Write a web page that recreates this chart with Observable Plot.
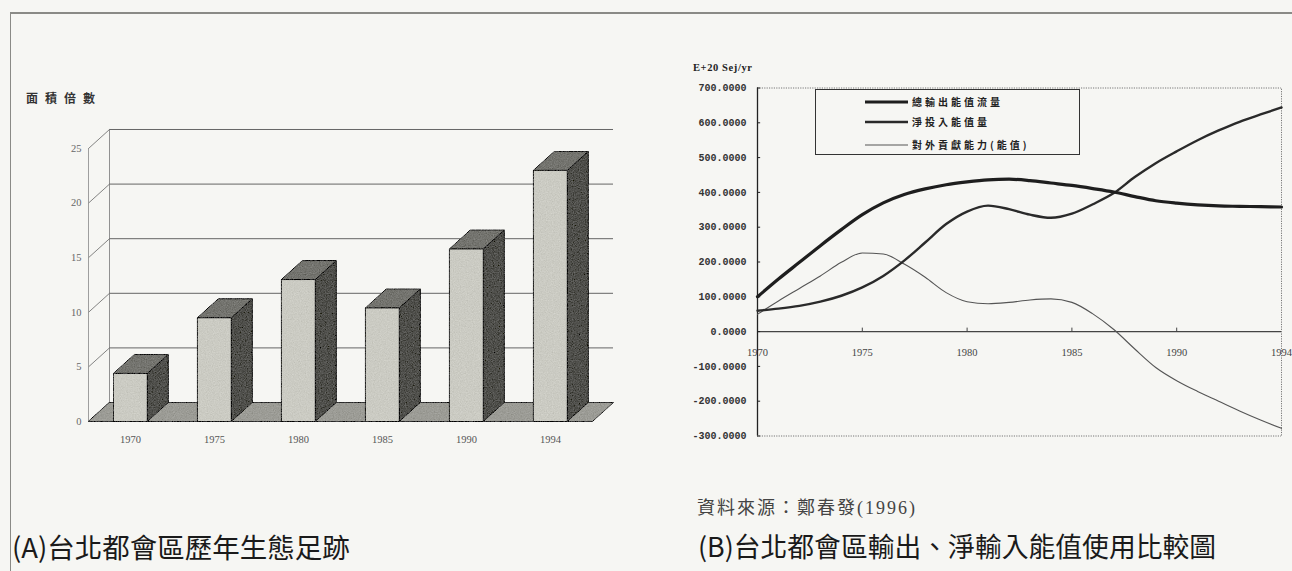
<!DOCTYPE html>
<html><head><meta charset="utf-8">
<script src="https://cdn.jsdelivr.net/npm/d3@7"></script>
<script src="https://cdn.jsdelivr.net/npm/@observablehq/plot@0.6"></script>
<style>
html,body{margin:0;padding:0;background:#f6f6f3;}
#page{position:relative;width:1292px;height:571px;overflow:hidden;background:#f6f6f3;font-family:"Noto Sans CJK TC",sans-serif;}
.abs{position:absolute;white-space:nowrap;}
</style></head><body>
<div id="page">
  <div class="abs" style="left:10px;top:12px;width:1282px;height:0;border-top:2px solid #8a8a86;"></div>
  <div class="abs" style="left:10px;top:12px;width:0;height:560px;border-left:1.5px solid #8a8a86;"></div>
  <div class="abs" style="left:26px;top:89px;font-size:12px;font-weight:bold;letter-spacing:7px;color:#333;">面積倍數</div>
  <div id="left" class="abs" style="left:0;top:100px;"></div>
  <div id="right" class="abs" style="left:650px;top:50px;"></div>
  <div class="abs" style="left:693px;top:62px;font-family:'Liberation Serif',serif;font-weight:bold;font-size:10.5px;letter-spacing:0.6px;color:#222;">E+20 Sej/yr</div>
  <div id="legend" class="abs" style="left:815px;top:89px;width:265px;height:66px;border:1.5px solid #333;box-sizing:border-box;"></div>
  <div class="abs" style="left:697px;top:493px;font-family:'Liberation Serif','Noto Sans CJK TC',serif;font-size:18px;letter-spacing:2px;color:#444;">資料來源：鄭春發(1996)</div>
  <div class="abs" style="left:12px;top:533px;font-size:27.5px;line-height:1;color:#1a1a1a;">(A)台北都會區歷年生態足跡</div>
  <div class="abs" style="left:698px;top:533px;font-size:26.8px;line-height:1;color:#1a1a1a;">(B)台北都會區輸出、淨輸入能值使用比較圖</div>
</div>
<script>
// ---------- Chart A data ----------
const barYears = ["1970", "1975", "1980", "1985", "1990", "1994"];
const barValues = [4.4, 9.5, 13.0, 10.4, 15.8, 23.0];
const barTicks = [0, 5, 10, 15, 20, 25];
const barTickLabels = ["0", "5", "10", "15", "20", "25"];

// ---------- Chart B data ----------
const lineX = [1970,1971,1972,1973,1974,1975,1976,1977,1978,1979,1980,1981,1982,1983,1984,1985,1986,1987,1988,1989,1990,1991,1992,1993,1994,1995];
const totalOutput = [100,151,199,247,293,336,370,394,410,422,430,436,438,434,427,420,411,401,388,376,369,364,361,360,359,358];
const netInput = [60,66,74,86,103,127,160,204,256,309,345,362,352,336,327,339,366,398,444,484,518,550,578,603,624,644];
const contribution = [50,88,124,160,199,226,223,194,156,112,86,80,84,91,94,84,51,6,-50,-103,-141,-172,-200,-228,-254,-278];
const seriesNames = ["總輸出能值流量", "淨投入能值量", "對外貢獻能力(能值)"];
const yTicksB = [-300,-200,-100,0,100,200,300,400,500,600,700];
const yTickLabelsB = ["-300.0000","-200.0000","-100.0000","0.0000","100.0000","200.0000","300.0000","400.0000","500.0000","600.0000","700.0000"];
const xTicksB = [1970,1975,1980,1985,1990,1995];
const xTickLabelsB = ["1970","1975","1980","1985","1990","1994"];

// grain texture applied to the 3D faces (styling only)
const grain = (index, scales, values, dims, ctx, next) => {
  const g = next(index, scales, values, dims, ctx);
  g.setAttribute("filter", "url(#grain)");
  return g;
};

// ---------- Chart A (pseudo 3D columns) ----------
const halfW = 0.2, dX = 0.25, dY = 1.74;
const fronts = [], sides = [], tops = [];
barValues.forEach((v, i) => {
  const c = i + 0.5, l = c - halfW, r = c + halfW;
  [[l,0],[r,0],[r,v],[l,v]].forEach(([x,y]) => fronts.push({id:i, x, y}));
  [[r,0],[r+dX,dY],[r+dX,v+dY],[r,v]].forEach(([x,y]) => sides.push({id:i, x, y}));
  [[l,v],[r,v],[r+dX,v+dY],[l+dX,v+dY]].forEach(([x,y]) => tops.push({id:i, x, y}));
});
const n = barValues.length;
const floor = [[0,0],[n,0],[n+dX,dY],[dX,dY]].map(([x,y]) => ({x, y}));
const wallTicks = barTicks.filter(d => d > 0);

const chartA = Plot.plot({
  width: 650, height: 360,
  marginLeft: 88, marginRight: 58, marginTop: 48, marginBottom: 39,
  x: {domain: [0, n], axis: null},
  y: {domain: [0, 25], axis: null},
  style: {background: "transparent", overflow: "visible"},
  marks: [
    Plot.ruleY(wallTicks, {y: d => d + dY, x1: dX, x2: n + dX, stroke: "#555", strokeWidth: 0.9}),
    Plot.link(barTicks, {x1: 0, y1: d => d, x2: dX, y2: d => d + dY, stroke: "#666", strokeWidth: 0.8}),
    Plot.ruleX([dX], {y1: dY, y2: 25 + dY, stroke: "#777", strokeWidth: 0.8}),
    Plot.ruleX([0], {y1: 0, y2: 25, stroke: "#888", strokeWidth: 0.8}),
    Plot.line(floor, {x: "x", y: "y", curve: "linear-closed", fill: "#9c9c96", stroke: "#333", strokeWidth: 1, render: grain}),
    Plot.line(sides, {x: "x", y: "y", z: "id", curve: "linear-closed", fill: "#50504c", stroke: "#1a1a1a", strokeWidth: 1, render: grain}),
    Plot.line(tops, {x: "x", y: "y", z: "id", curve: "linear-closed", fill: "#74746f", stroke: "#1a1a1a", strokeWidth: 1, render: grain}),
    Plot.line(fronts, {x: "x", y: "y", z: "id", curve: "linear-closed", fill: "#cbcbc3", stroke: "#1a1a1a", strokeWidth: 1, render: grain}),
    Plot.text(barTicks, {x: 0, y: d => d, dx: -7, text: (d, i) => barTickLabels[i], textAnchor: "end", fontSize: 10.5, fill: "#666", fontFamily: "Liberation Serif"}),
    Plot.text(barYears, {x: (d, i) => i + 0.5, y: 0, dy: 18, text: d => d, fontSize: 10.5, fill: "#555", fontFamily: "Liberation Serif", letterSpacing: "0.6px"})
  ]
});
d3.select(chartA).insert("defs", ":first-child").html(`
  <filter id="grain" x="0" y="0" width="100%" height="100%">
    <feTurbulence type="fractalNoise" baseFrequency="0.85" numOctaves="2" seed="7" result="noise"/>
    <feColorMatrix in="noise" type="matrix" values="0.33 0.33 0.33 0 0  0.33 0.33 0.33 0 0  0.33 0.33 0.33 0 0  0 0 0 0 1" result="gray"/>
    <feComposite in="SourceGraphic" in2="gray" operator="arithmetic" k1="0" k2="1" k3="0.34" k4="-0.17" result="mix"/>
    <feComposite in="mix" in2="SourceGraphic" operator="in"/>
  </filter>`);
document.getElementById("left").appendChild(chartA);

// ---------- Chart B (lines) ----------
const widths = [3.2, 2.4, 1.1];
const colors = ["#1e1e1e", "#2a2a2a", "#555"];
const dataB = [totalOutput, netInput, contribution].map((arr, s) => arr.map((v, i) => ({x: lineX[i], y: v, s})));
const dotted = {stroke: "#777", strokeWidth: 1, strokeDasharray: "1.2,1.2"};
const chartB = Plot.plot({
  width: 642, height: 410,
  marginLeft: 107, marginRight: 11, marginTop: 37.5, marginBottom: 24.5,
  x: {domain: [1970, 1995], axis: null},
  y: {domain: [-300, 700], axis: null},
  style: {background: "transparent", overflow: "visible"},
  marks: [
    Plot.ruleY([700], {x1: 1970, x2: 1995, ...dotted}),
    Plot.ruleY([-300], {x1: 1970, x2: 1995, ...dotted}),
    Plot.ruleX([1995], {y1: -300, y2: 700, ...dotted}),
    Plot.ruleY([0], {x1: 1970, x2: 1995, stroke: "#444", strokeWidth: 1.2}),
    Plot.ruleX([1970], {y1: -300, y2: 700, stroke: "#222", strokeWidth: 1.3}),
    Plot.ruleY(yTicksB, {x1: 1970, x2: 1970.15, stroke: "#222", strokeWidth: 1}),
    Plot.ruleX(xTicksB.slice(1, -1), {y1: 0, y2: 10, stroke: "#444", strokeWidth: 1}),
    Plot.text(yTicksB, {x: 1970, y: d => d, dx: -11, text: (d, i) => yTickLabelsB[i], textAnchor: "end", fontFamily: "Liberation Mono", fontWeight: "bold", fontSize: 10, fill: "#333"}),
    Plot.text(xTicksB, {x: d => d, y: 0, dy: 21, text: (d, i) => xTickLabelsB[i], fontFamily: "Liberation Serif", fontSize: 10.5, fill: "#444"}),
    ...[2, 1, 0].map(s => Plot.line(dataB[s], {x: "x", y: "y", curve: "monotone-x", stroke: colors[s], strokeWidth: widths[s]}))
  ]
});
document.getElementById("right").appendChild(chartB);

// ---------- Legend for chart B ----------
const lg = d3.select("#legend").append("svg").attr("width", 262).attr("height", 63).style("display", "block");
const rowY = [12, 32, 55];
seriesNames.forEach((name, s) => {
  lg.append("line").attr("x1", 49).attr("x2", 92).attr("y1", rowY[s]).attr("y2", rowY[s])
    .attr("stroke", colors[s]).attr("stroke-width", widths[s]);
  lg.append("text").attr("x", 96).attr("y", rowY[s]).attr("dy", "0.35em")
    .attr("font-size", 10).attr("font-weight", "bold").attr("letter-spacing", "3px")
    .attr("font-family", "'Noto Sans CJK TC', sans-serif").attr("fill", "#222").text(name);
});
</script>
</body></html>
